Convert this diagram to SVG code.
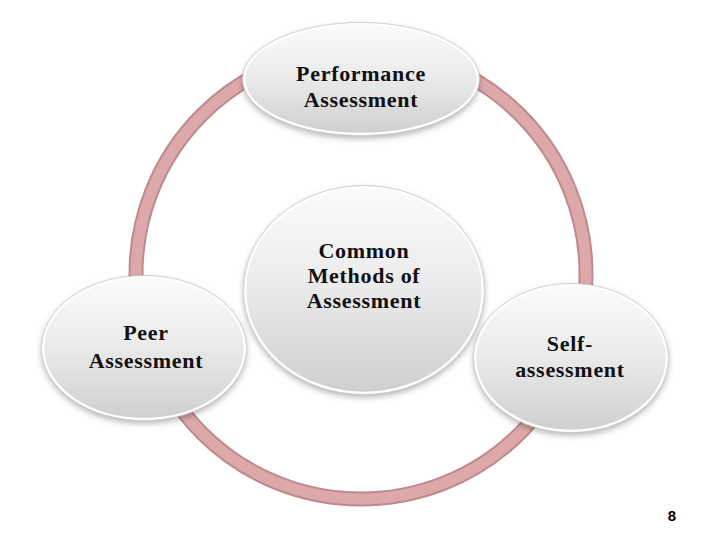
<svg xmlns="http://www.w3.org/2000/svg" width="720" height="540" viewBox="0 0 720 540">
<defs>
<linearGradient id="g" x1="0" y1="0" x2="0" y2="1">
<stop offset="0" stop-color="#fbfbfb"/>
<stop offset="0.45" stop-color="#ececec"/>
<stop offset="1" stop-color="#cfcfcf"/>
</linearGradient>
<filter id="sh" x="-20%" y="-20%" width="140%" height="150%">
<feDropShadow dx="0" dy="3" stdDeviation="3" flood-color="#000" flood-opacity="0.3"/>
</filter>
</defs>
<style>
.n{fill:url(#g);stroke:#ffffff;stroke-width:2.5;filter:url(#sh)}
.o{fill:none;stroke:#c8c8c8;stroke-width:0.8}
.t{font-family:"Liberation Serif","Times New Roman",serif;font-weight:bold;font-size:22px;letter-spacing:0.7px;text-anchor:middle;fill:#111}
</style>
<rect width="720" height="540" fill="#fff"/>
<g id="connectors">
<circle cx="361" cy="274" r="225" fill="none" stroke="#be8a8c" stroke-width="15"/>
<circle cx="361" cy="274" r="225" fill="none" stroke="#dda8aa" stroke-width="11"/>
</g>
<g id="performance">
<ellipse class="n" cx="361" cy="79" rx="117" ry="55"/>
<ellipse class="o" cx="361" cy="79" rx="118.5" ry="56.5"/>
<text class="t" x="361" y="81">Performance</text>
<text class="t" x="361" y="107">Assessment</text>
</g>
<g id="center">
<ellipse class="n" cx="364" cy="290" rx="119" ry="103"/>
<ellipse class="o" cx="364" cy="290" rx="120.5" ry="104.5"/>
<text class="t" x="364" y="258">Common</text>
<text class="t" x="364" y="283">Methods of</text>
<text class="t" x="364" y="308">Assessment</text>
</g>
<g id="peer">
<ellipse class="n" cx="144" cy="348" rx="101" ry="71"/>
<ellipse class="o" cx="144" cy="348" rx="102.5" ry="72.5"/>
<text class="t" x="146" y="340">Peer</text>
<text class="t" x="146" y="368">Assessment</text>
</g>
<g id="self">
<ellipse class="n" cx="571" cy="358" rx="96" ry="73"/>
<ellipse class="o" cx="571" cy="358" rx="97.5" ry="74.5"/>
<text class="t" x="570" y="351">Self-</text>
<text class="t" x="570" y="377">assessment</text>
</g>
<text x="672" y="521" font-family="Liberation Sans, Arial, sans-serif" font-size="15" font-weight="bold" text-anchor="middle" fill="#000">8</text>
</svg>
